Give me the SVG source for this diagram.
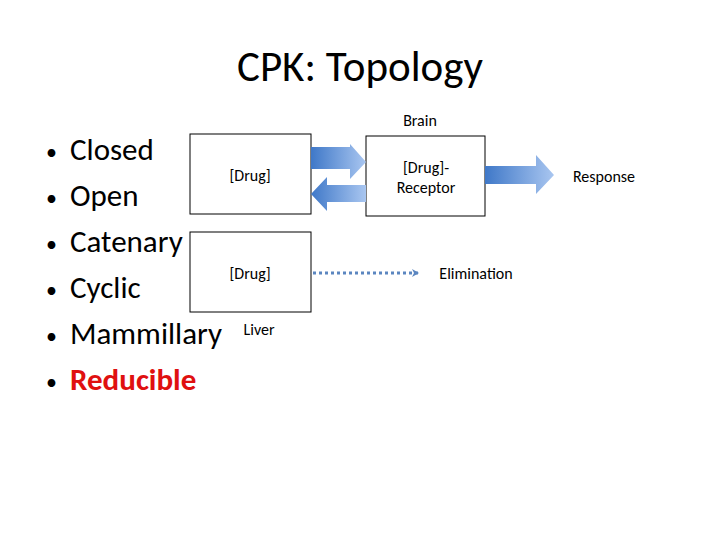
<svg xmlns="http://www.w3.org/2000/svg" width="720" height="540" viewBox="0 0 720 540">
<defs>
<linearGradient id="gh" x1="0" y1="0" x2="1" y2="0"><stop offset="0" stop-color="#3f78c8"/><stop offset="1" stop-color="#a9c6f0"/></linearGradient>
<linearGradient id="gl" x1="1" y1="0" x2="0" y2="0"><stop offset="0" stop-color="#a9c6f0"/><stop offset="1" stop-color="#3f78c8"/></linearGradient>
<marker id="ah" markerWidth="8" markerHeight="8" refX="6" refY="4" orient="auto" markerUnits="userSpaceOnUse"><path d="M0,0 L7,4 L0,8 L2,4 Z" fill="#5b86c0"/></marker>
<style>
.t{font-family:Calibri,Carlito,Lato,sans-serif;fill:#000}
.s{font-size:16px}
.b{font-size:31px}
.box{fill:#fff;stroke:#000;stroke-width:1}
</style>
</defs>
<rect width="720" height="540" fill="#fff"/>
<text class="t" x="360" y="81" font-size="43" text-anchor="middle">CPK: Topology</text>
<g class="t b">
<text x="46" y="160" font-size="22">•</text><text x="70" y="160">Closed</text>
<text x="46" y="206" font-size="22">•</text><text x="70" y="206">Open</text>
<text x="46" y="252" font-size="22">•</text><text x="70" y="252">Catenary</text>
<text x="46" y="298" font-size="22">•</text><text x="70" y="298">Cyclic</text>
<text x="46" y="344" font-size="22">•</text><text x="70" y="344">Mammillary</text>
<text x="46" y="390" font-size="22">•</text><text x="70" y="390" font-weight="bold" style="fill:#e01010">Reducible</text>
</g>
<g id="drug1"><rect class="box" x="190" y="134" width="121" height="80"/><text class="t s" x="250" y="181" text-anchor="middle">[Drug]</text></g>
<g id="drug2"><rect class="box" x="190" y="232" width="121" height="80"/><text class="t s" x="250" y="279" text-anchor="middle">[Drug]</text></g>
<g id="receptor"><rect class="box" x="366" y="136" width="119" height="80"/><text class="t s" x="426" y="173" text-anchor="middle">[Drug]-</text><text class="t s" x="426" y="193" text-anchor="middle">Receptor</text></g>
<g id="labels">
<text class="t s" x="420" y="126" text-anchor="middle">Brain</text>
<text class="t s" x="259" y="335" text-anchor="middle">Liver</text>
<text class="t s" x="604" y="182" text-anchor="middle">Response</text>
<text class="t s" x="476" y="279" text-anchor="middle">Elimination</text>
</g>
<g id="connectors">
<path d="M311,147 H350 V144 L366,162 L350,179 V169 H311 Z" fill="url(#gh)"/>
<path d="M366,185 H327 V177 L311,194 L327,211 V202 H366 Z" fill="url(#gl)"/>
<path d="M485,166 H536 V155 L554,175 L536,194 V184 H485 Z" fill="url(#gh)"/>
<line x1="313" y1="273" x2="418" y2="273" stroke="#5b86c0" stroke-width="3" stroke-dasharray="3,3" marker-end="url(#ah)"/>
</g>
</svg>
